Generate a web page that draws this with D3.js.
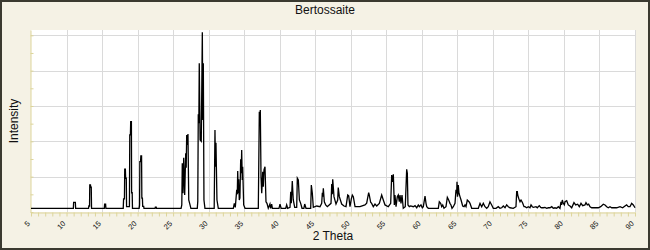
<!DOCTYPE html>
<html lang="en">
  <head>
    <meta charset="utf-8">
    <title>Bertossaite</title>
    <script src="https://cdnjs.cloudflare.com/ajax/libs/d3/7.8.5/d3.min.js"></script>
    <style>
      body { margin: 0; padding: 0; background: #fff; }
      svg text { font-family: "Liberation Sans", Arial, sans-serif; fill: #111; }
      .grid line { stroke: #dadada; stroke-width: 1; }
      .axis path, .axis line { stroke: #ddd59b; }
    </style>
  </head>
  <body>
    <div id="chart"></div>

    <script type="text/javascript">
    // pattern: [2 theta, intensity]
    const lowAngle = [
      [5.0, 2.1], [10.96, 2.1], [11.0, 5.5], [11.24, 5.5], [11.28, 2.1],
      [13.1, 2.1], [13.14, 3.4], [13.24, 3.4], [13.27, 15.3], [13.37, 15.3], [13.40, 14.0], [13.48, 14.0], [13.52, 2.1],
      [15.32, 2.1], [15.36, 4.5], [15.5, 4.5], [15.54, 2.1],
      [17.98, 2.1], [18.03, 7.4], [18.15, 7.4], [18.19, 24.3], [18.28, 24.3], [18.32, 19.1], [18.41, 19.1], [18.45, 3.0],
      [18.85, 3.0], [18.9, 43.6], [18.99, 43.6], [19.03, 51.1], [19.13, 51.1], [19.16, 10.9], [19.24, 10.9], [19.28, 2.1],
      [20.22, 2.1], [20.28, 4.0], [20.32, 28.5], [20.42, 28.5], [20.46, 31.7], [20.56, 31.7], [20.6, 7.8], [20.68, 7.8],
      [20.72, 3.2], [20.86, 3.2], [20.9, 2.1],
      [22.46, 2.1], [22.5, 2.8], [22.62, 2.8], [22.66, 2.1]
    ];

    const mainCluster = [
      [26.12, 2.1], [26.22, 4.0], [26.29, 27.6], [26.39, 10.6], [26.49, 30.7], [26.63, 9.6], [26.77, 33.2], [26.84, 25.0],
      [26.91, 43.6], [27.0, 38.0], [27.09, 44.1], [27.2, 6.8], [27.38, 4.0], [27.5, 2.1],
      [28.4, 2.1], [28.47, 6.0], [28.54, 55.3], [28.62, 50.2], [28.68, 84.2], [28.8, 40.7], [28.96, 40.0], [29.11, 101.7],
      [29.18, 52.0], [29.25, 84.2], [29.34, 6.8], [29.48, 2.1],
      [30.78, 2.1], [30.89, 46.4], [30.96, 25.6], [31.03, 39.2], [31.17, 6.8], [31.36, 2.1],
      [33.47, 2.1], [33.61, 4.9], [33.75, 2.6], [33.95, 12.5], [34.03, 10.0], [34.09, 23.2], [34.17, 10.6], [34.23, 18.5],
      [34.31, 6.8], [34.4, 8.0], [34.51, 29.8], [34.58, 22.0], [34.65, 35.1], [34.73, 18.1], [34.79, 25.6], [34.93, 4.0], [35.12, 2.1],
      [36.99, 2.1], [37.13, 56.8], [37.2, 52.0], [37.27, 57.7], [37.37, 20.0], [37.47, 10.6], [37.61, 22.8], [37.69, 14.3],
      [37.79, 23.8], [37.93, 25.6], [38.07, 5.8], [38.21, 4.9], [38.39, 2.1], [38.63, 4.5], [38.72, 2.1], [38.87, 4.4], [38.97, 2.1]
    ];

    const midAngle = [
      [39.34, 2.1], [39.9, 2.1], [40.04, 4.5], [40.2, 2.1], [40.85, 2.1], [40.98, 4.0], [41.12, 2.1],
      [41.45, 2.6], [41.55, 11.5], [41.63, 4.9], [41.77, 17.5], [41.91, 6.8], [42.11, 2.6],
      [42.39, 2.6], [42.48, 19.1], [42.62, 18.1], [42.77, 6.8], [42.95, 4.9], [43.14, 2.1],
      [43.4, 2.1], [43.52, 4.5], [43.7, 2.1], [44.36, 2.1], [44.45, 15.3], [44.59, 10.6], [44.73, 2.6],
      [45.21, 3.4], [45.67, 3.0], [45.91, 4.9], [46.0, 10.9], [46.07, 8.7], [46.14, 13.4], [46.28, 5.8], [46.47, 4.0], [46.7, 3.0],
      [47.22, 4.9], [47.32, 15.8], [47.4, 10.0], [47.46, 18.5], [47.64, 8.7], [47.92, 4.5],
      [48.16, 6.8], [48.24, 13.8], [48.39, 8.7], [48.72, 4.5], [49.05, 3.4], [49.33, 3.0],
      [49.57, 9.6], [49.71, 9.1], [49.89, 3.0], [50.08, 7.4], [50.22, 9.6], [50.36, 8.7], [50.6, 3.0], [51.3, 3.0],
      [52.0, 4.0], [52.24, 5.0], [52.52, 10.9], [52.61, 9.6], [52.8, 5.5], [52.94, 4.9], [53.17, 3.0], [53.41, 4.5], [53.65, 3.4],
      [54.02, 4.9], [54.35, 9.6], [54.58, 6.8], [54.82, 4.0], [55.28, 3.0],
      [55.62, 4.9], [55.76, 20.9], [55.85, 17.0], [55.99, 21.3], [56.13, 4.0], [56.22, 9.6], [56.37, 3.0], [56.55, 8.6],
      [56.69, 9.6], [56.83, 5.8], [56.93, 9.6], [57.07, 4.9], [57.21, 9.6], [57.39, 2.1],
      [57.67, 3.0], [57.87, 24.2], [57.96, 21.9], [58.05, 4.0], [58.24, 3.0]
    ];

    const highAngle = [
      [58.43, 3.4], [58.8, 3.0], [59.04, 3.6], [59.28, 2.4], [59.5, 4.0], [59.65, 3.0], [59.88, 4.0], [60.07, 2.4], [60.21, 3.0],
      [60.45, 9.0], [60.59, 4.9], [60.69, 3.0], [60.91, 2.1], [62.32, 2.1], [62.46, 5.8], [62.65, 4.9], [62.8, 3.0], [62.94, 4.0],
      [63.12, 2.1], [63.4, 3.0], [63.59, 8.3], [63.78, 6.8], [63.96, 4.9], [64.1, 4.0], [64.25, 2.1], [64.43, 3.0], [64.67, 4.9],
      [64.81, 12.5], [64.91, 10.6], [64.95, 17.1], [65.02, 8.7], [65.05, 9.6], [65.13, 15.3], [65.23, 10.6], [65.37, 8.7],
      [65.52, 6.8], [65.75, 3.4], [65.94, 3.0], [66.08, 4.0], [66.22, 3.0], [66.4, 6.8], [66.64, 5.8], [66.78, 4.9], [67.02, 2.1],
      [67.95, 2.1], [68.19, 4.9], [68.43, 3.0], [68.65, 4.9], [68.89, 3.0], [69.13, 2.1], [69.35, 3.0], [69.59, 5.8], [69.83, 4.0],
      [70.06, 2.1], [70.44, 2.1], [70.76, 3.0], [71.0, 2.1], [71.24, 2.4], [71.47, 3.4], [71.71, 2.4], [71.94, 4.0], [72.17, 3.0],
      [72.41, 2.4], [72.87, 2.1], [73.25, 3.0],
      [73.35, 11.5], [73.44, 11.5], [73.49, 9.6], [73.63, 7.8], [73.72, 6.8], [73.82, 5.8], [73.96, 6.8], [74.1, 5.8], [74.2, 4.9],
      [74.38, 3.0], [74.52, 3.0], [74.76, 2.4], [74.98, 3.0], [75.22, 2.4], [75.37, 4.0], [75.55, 3.0], [75.69, 2.6], [76.07, 3.0],
      [76.25, 2.4], [76.53, 3.6], [76.73, 2.6], [76.87, 2.4], [77.09, 2.4], [77.33, 2.6], [77.57, 2.1], [77.8, 2.4], [78.04, 2.4],
      [78.28, 3.0], [78.5, 2.1], [78.74, 2.4], [78.98, 2.1], [79.21, 3.0], [79.44, 2.1], [79.58, 5.8], [79.68, 4.0], [79.77, 6.8],
      [79.91, 4.9], [80.05, 4.0], [80.15, 5.8], [80.39, 6.4], [80.61, 4.0], [80.85, 3.4], [81.09, 2.4], [81.41, 5.3], [81.65, 4.0],
      [81.93, 4.4], [82.16, 3.0], [82.4, 4.9], [82.64, 3.6], [82.96, 4.0], [83.1, 5.3], [83.29, 4.0], [83.48, 4.4], [83.67, 3.0],
      [83.91, 2.4], [84.37, 2.4], [84.84, 2.4], [85.17, 3.0], [85.54, 4.4], [85.78, 4.0], [86.02, 3.0], [86.24, 2.4], [86.48, 3.0],
      [86.72, 2.4], [86.95, 2.4], [87.42, 2.4], [87.89, 3.0], [88.26, 2.4], [88.59, 3.4], [88.82, 4.0], [89.05, 3.0], [89.29, 3.0],
      [89.53, 4.9], [89.76, 4.0], [90.0, 2.4]
    ];

    const xLabels = [5, 10, 15, 20, 25, 30, 35, 40, 45, 50, 55, 60, 65, 70, 75, 80, 85, 90];
    const yGrid = [20, 40, 60, 80, 100];

    const pattern = lowAngle.concat(mainCluster, midAngle, highAngle);

    const w = 650;
    const h = 250;
    const plot = {left: 31, right: 635, top: 30, bottom: 212};

    const svg = d3.select("#chart")
                  .append("svg")
                  .attr("width", w)
                  .attr("height", h);

    // frame
    svg.append("rect")
       .attr("x", 1).attr("y", 1)
       .attr("width", w - 2).attr("height", h - 2)
       .style("fill", "#f5f2e5")
       .style("stroke", "#3b3a30")
       .style("stroke-width", 2);

    svg.append("rect")
       .attr("x", plot.left).attr("y", plot.top)
       .attr("width", plot.right - plot.left)
       .attr("height", plot.bottom - plot.top)
       .style("fill", "#ffffff");

    const xScale = d3.scaleLinear()
                     .domain([5, 90])
                     .range([plot.left, plot.right]);
    const yScale = d3.scaleLinear()
                     .domain([0, 103])
                     .range([plot.bottom, plot.top]);

    // grid
    const grid = svg.append("g").attr("class", "grid");
    grid.selectAll(".vgrid")
        .data(xLabels.slice(1))
        .enter()
        .append("line")
        .attr("x1", d => Math.round(xScale(d)) + 0.5)
        .attr("x2", d => Math.round(xScale(d)) + 0.5)
        .attr("y1", plot.top)
        .attr("y2", plot.bottom);
    grid.selectAll(".hgrid")
        .data(yGrid)
        .enter()
        .append("line")
        .attr("x1", plot.left)
        .attr("x2", plot.right)
        .attr("y1", d => Math.round(yScale(d)) + 0.5)
        .attr("y2", d => Math.round(yScale(d)) + 0.5);

    // axes
    const xAxis = d3.axisBottom(xScale)
                    .tickValues(d3.range(5, 91, 1))
                    .tickSize(4)
                    .tickSizeOuter(0)
                    .tickFormat("");
    svg.append("g")
       .attr("class", "axis")
       .attr("transform", "translate(0," + (plot.bottom + 0.5) + ")")
       .call(xAxis);

    const yAxis = d3.axisRight(yScale)
                    .tickValues(d3.range(0, 101, 10))
                    .tickSize(3)
                    .tickSizeOuter(0)
                    .tickFormat("");
    svg.append("g")
       .attr("class", "axis")
       .attr("transform", "translate(" + (plot.left - 0.5) + ",0)")
       .call(yAxis);

    svg.selectAll(".xlabel")
       .data(xLabels)
       .enter()
       .append("text")
       .attr("class", "xlabel")
       .attr("transform", d => "translate(" + (xScale(d) - 0.5) + "," + 224 + ") rotate(-45)")
       .attr("text-anchor", "end")
       .style("font-size", "7.5px")
       .text(d => d);

    // pattern
    const line = d3.line()
                   .x(d => xScale(d[0]))
                   .y(d => yScale(d[1]));
    svg.append("path")
       .datum(pattern)
       .attr("d", line)
       .style("fill", "none")
       .style("stroke", "#000")
       .style("stroke-width", 1.3)
       .style("stroke-linejoin", "miter");

    // titles
    svg.append("text")
       .attr("x", w / 2)
       .attr("y", 14)
       .attr("text-anchor", "middle")
       .style("font-size", "12px")
       .text("Bertossaite");

    svg.append("text")
       .attr("x", (plot.left + plot.right) / 2)
       .attr("y", 240)
       .attr("text-anchor", "middle")
       .style("font-size", "12px")
       .text("2 Theta");

    svg.append("text")
       .attr("transform", "translate(18," + ((plot.top + plot.bottom) / 2) + ") rotate(-90)")
       .attr("text-anchor", "middle")
       .style("font-size", "12px")
       .text("Intensity");
    </script>
  </body>
</html>
